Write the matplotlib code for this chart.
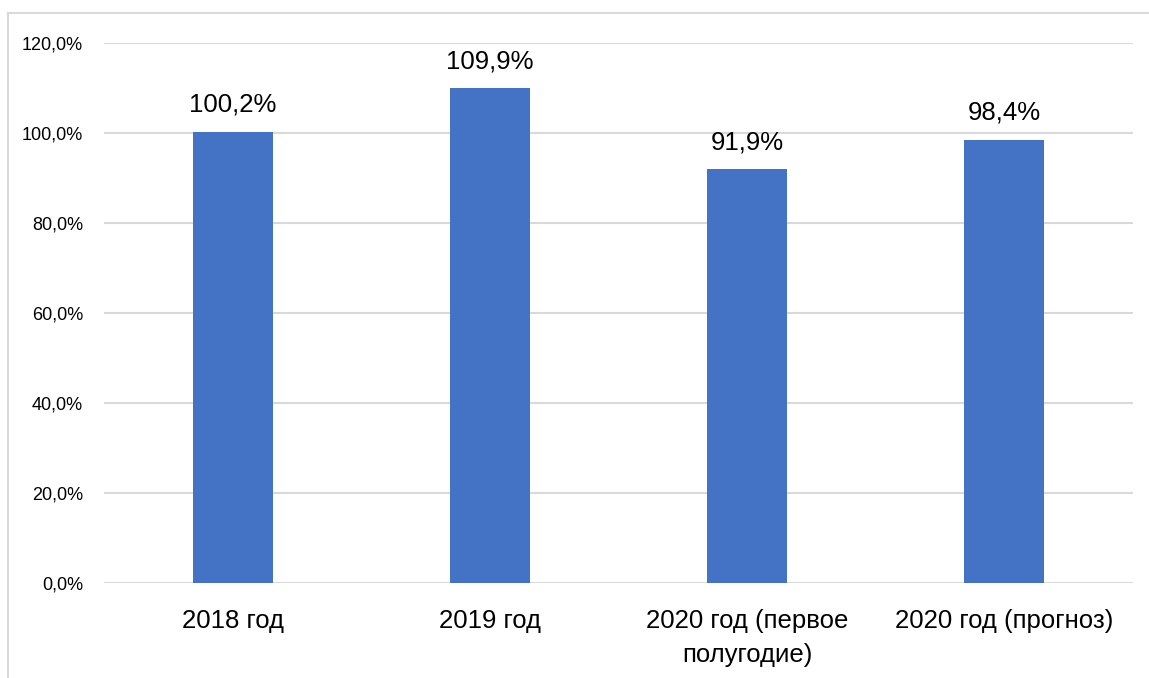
import matplotlib
matplotlib.use("Agg")
import matplotlib.pyplot as plt
from matplotlib import font_manager
from matplotlib.lines import Line2D

categories = ["2018 год", "2019 год", "2020 год (первое\nполугодие)", "2020 год (прогноз)"]
values = [100.2, 109.9, 91.9, 98.4]
value_labels = ["100,2%", "109,9%", "91,9%", "98,4%"]
yticks = [0, 20, 40, 60, 80, 100, 120]
ytick_labels = ["0,0%", "20,0%", "40,0%", "60,0%", "80,0%", "100,0%", "120,0%"]

installed = {f.name for f in font_manager.fontManager.ttflist}
family = "Liberation Sans Narrow" if "Liberation Sans Narrow" in installed else "Liberation Sans"
plt.rcParams["font.family"] = [family, "DejaVu Sans"]

W, H = 1149, 678
fig = plt.figure(figsize=(W / 100, H / 100), dpi=100)
ax = fig.add_axes([104 / W, (H - 583) / H, (1133 - 104) / W, (583 - 43) / H])

x = range(len(categories))
ax.bar(x, values, width=0.311, color="#4472C4", zorder=3)
ax.set_xlim(-0.5, len(categories) - 0.5)
ax.set_ylim(0, 120)

ax.set_yticks(yticks)
ax.set_yticklabels(ytick_labels, fontsize=13)
ax.set_xticks(list(x))
ax.set_xticklabels(categories, fontsize=18.5, linespacing=1.5)
ax.tick_params(axis="both", length=0, colors="black")
ax.tick_params(axis="y", pad=15)
ax.tick_params(axis="x", pad=19)

ax.yaxis.grid(True, color="#d9d9d9", linewidth=1.5, zorder=0)
for s in ax.spines.values():
    s.set_visible(False)

for xi, v, lab in zip(x, values, value_labels):
    ax.annotate(lab, (xi, v), xytext=(0, 11), textcoords="offset points",
                ha="center", va="bottom", fontsize=18.5)

# chart frame
fig.add_artist(Line2D([8 / W, 8 / W], [0, (H - 13) / H], color="#d9d9d9", linewidth=1.5,
                      transform=fig.transFigure))
fig.add_artist(Line2D([8 / W, 1], [(H - 13) / H, (H - 13) / H], color="#d9d9d9", linewidth=1.5,
                      transform=fig.transFigure))

fig.savefig("out.png", dpi=100, facecolor="white")
